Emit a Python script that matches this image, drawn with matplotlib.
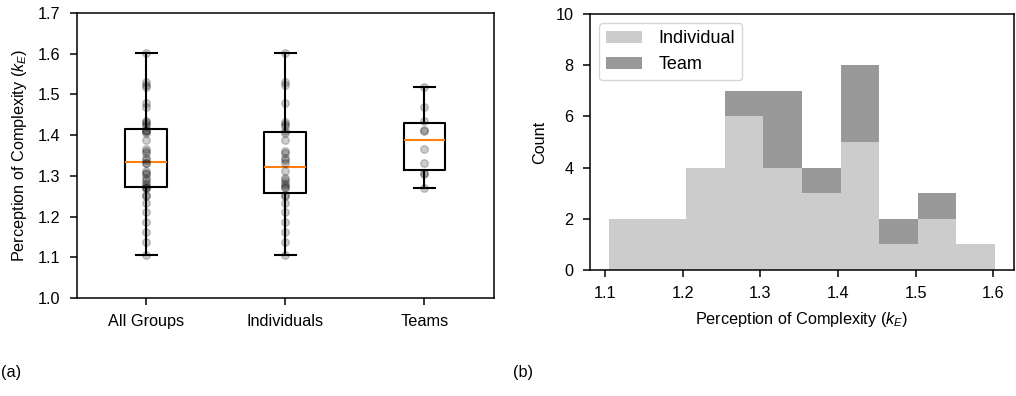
import numpy as np
import matplotlib
matplotlib.use("Agg")
from matplotlib import pyplot as plt

plt.rcParams['font.family'] = ['Liberation Sans', 'DejaVu Sans']
plt.rcParams['font.size'] = 11.7
plt.rcParams['mathtext.fontset'] = 'custom'
plt.rcParams['mathtext.it'] = 'Liberation Sans:italic'
plt.rcParams['mathtext.rm'] = 'Liberation Sans'
plt.rcParams['axes.linewidth'] = 1.1
plt.rcParams['axes.labelpad'] = 6
for ax_name in ('xtick', 'ytick'):
    plt.rcParams[ax_name + '.major.size'] = 4.8
    plt.rcParams[ax_name + '.major.width'] = 1.1
    plt.rcParams[ax_name + '.major.pad'] = 7

# perception of complexity k_E per participant
k_individual = [1.105, 1.138, 1.163, 1.187, 1.212, 1.233, 1.250, 1.253,
                1.270, 1.272, 1.278, 1.282, 1.290, 1.295,
                1.313, 1.332, 1.338, 1.345,
                1.355, 1.360, 1.388,
                1.405, 1.410, 1.422, 1.428, 1.433,
                1.478, 1.523, 1.531, 1.602]
k_team = [1.270, 1.305, 1.308, 1.332, 1.366, 1.411, 1.412, 1.435, 1.470, 1.519]
k_all = k_individual + k_team

group_labels = ['All Groups', 'Individuals', 'Teams']
hist_labels = ['Individual', 'Team']

fig = plt.figure(figsize=(10.16, 3.96), dpi=100)

# (a) box plots with the raw points on top
ax1 = fig.add_axes([0.0753, 0.2475, 0.4109, 0.7197])
groups = [k_all, k_individual, k_team]
box_style = dict(color='k', linewidth=1.5)
ax1.boxplot(groups, widths=0.3,
            boxprops=box_style, whiskerprops=box_style, capprops=box_style,
            medianprops=dict(color='C1', linewidth=1.5))
for i, g in enumerate(groups):
    ax1.scatter(np.full(len(g), i + 1), g, color='k', alpha=0.2, s=30, zorder=3)
ax1.set_xticks([1, 2, 3])
ax1.set_xticklabels(group_labels)
ax1.set_ylim(1.0, 1.7)
ax1.set_yticks(np.arange(1.0, 1.71, 0.1))
ax1.set_ylabel('Perception of Complexity ($k_E$)')

# (b) stacked histogram
ax2 = fig.add_axes([0.5807, 0.3182, 0.4173, 0.6465])
ax2.hist([k_individual, k_team], bins=10, stacked=True,
         color=['#cccccc', '#999999'], label=hist_labels)
ax2.set_ylim(0, 10)
ax2.set_xticks([1.1, 1.2, 1.3, 1.4, 1.5, 1.6])
ax2.set_xlabel('Perception of Complexity ($k_E$)')
ax2.set_ylabel('Count')
ax2.legend(loc='upper left', fontsize=13, handletextpad=0.9)

fig.text(0.001, 0.06, '(a)', ha='left', va='center')
fig.text(0.515, 0.06, '(b)', ha='center', va='center')

fig.savefig('out.png', dpi=100)
